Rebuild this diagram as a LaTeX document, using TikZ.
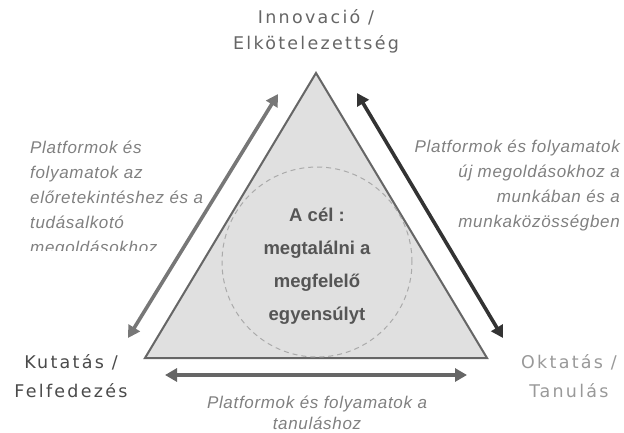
\documentclass[tikz,border=0pt]{standalone}
\usepackage{fontspec}
\setmainfont{Liberation Sans}
\newfontfamily\cornerfont[LetterSpace=13]{DejaVu Sans}
\usetikzlibrary{arrows.meta}
\definecolor{trifill}{HTML}{E0E0E0}
\definecolor{triedge}{HTML}{666666}
\definecolor{circedge}{HTML}{AAAAAA}
\definecolor{arrL}{HTML}{777777}
\definecolor{arrR}{HTML}{333333}
\definecolor{arrB}{HTML}{666666}
\definecolor{txtTop}{HTML}{666666}
\definecolor{txtLeft}{HTML}{4A4A4A}
\definecolor{txtRight}{HTML}{999999}
\definecolor{txtIt}{HTML}{808080}
\definecolor{txtGoal}{HTML}{555555}
\tikzset{
  cornerlabel/.style={align=center, inner sep=0pt, anchor=base,
    font=\cornerfont\fontsize{17.5}{29}\selectfont},
  italiclabel/.style={inner sep=0pt, text=txtIt,
    font=\fontsize{17}{25}\selectfont\itshape\addfontfeature{LetterSpace=4}},
  goallabel/.style={align=center, inner sep=0pt, anchor=base, text=txtGoal,
    font=\fontsize{18.5}{33}\selectfont\bfseries},
  bigarrow/.style={line width=3.6pt,
    arrows={Triangle[length=12pt,width=13pt]-Triangle[length=12pt,width=13pt]}},
  tri/.style={fill=trifill, draw=triedge, line width=2pt, line join=miter},
  goalcircle/.style={circle, draw=circedge, dash pattern=on 5pt off 4pt, line width=1pt,
    minimum size=190pt, inner sep=0pt}
}
\begin{document}
\begin{tikzpicture}[x=1pt,y=-1pt]
\useasboundingbox (0,0) rectangle (624,432);
% triangle
\coordinate (apex) at (316,73);
\coordinate (bl) at (145,358);
\coordinate (br) at (487,358);
\draw[tri] (apex) -- (bl) -- (br) -- cycle;
% dashed circle
\node[goalcircle] (goal) at (317,262) {};
% (base anchor = baseline of the last line)
\node[goallabel] (goaltext) at (317,320.5) {A cél :\\megtalálni a\\megfelelő\\egyensúlyt};
% arrows
\coordinate (la1) at (128,338);
\coordinate (la2) at (278,94);
\coordinate (ra1) at (357,93);
\coordinate (ra2) at (503,338);
\coordinate (ba1) at (165,375);
\coordinate (ba2) at (467,375);
\draw[bigarrow, draw=arrL, fill=arrL] (la1) -- (la2);
\draw[bigarrow, draw=arrR, fill=arrR] (ra1) -- (ra2);
\draw[bigarrow, draw=arrB, fill=arrB] (ba1) -- (ba2);
% corner labels
\node[cornerlabel, text=txtTop, font=\cornerfont\fontsize{17.5}{26}\selectfont] (top) at (316,49.5) {Innovació /\\Elkötelezettség};
\node[cornerlabel, text=txtLeft] (left) at (71,397.5) {Kutatás /\\Felfedezés};
\node[cornerlabel, text=txtRight] (right) at (569,397.5) {Oktatás /\\Tanulás};
% italic labels
\begin{scope}
\clip (0,0) rectangle (260,250);
\node[italiclabel, align=left, anchor=base west] (ltext) at (30,253)
  {Platformok és\\folyamatok az\\előretekintéshez és a\\tudásalkotó\\megoldásokhoz};
\end{scope}
\node[italiclabel, align=right, anchor=base east] (rtext) at (620,227)
  {Platformok és folyamatok\\új megoldásokhoz a\\munkában és a\\munkaközösségben};
\node[italiclabel, align=center, anchor=base, font=\fontsize{17}{21}\selectfont\itshape\addfontfeature{LetterSpace=4}] (btext) at (317,429)
  {Platformok és folyamatok a\\tanuláshoz};
\end{tikzpicture}
\end{document}
